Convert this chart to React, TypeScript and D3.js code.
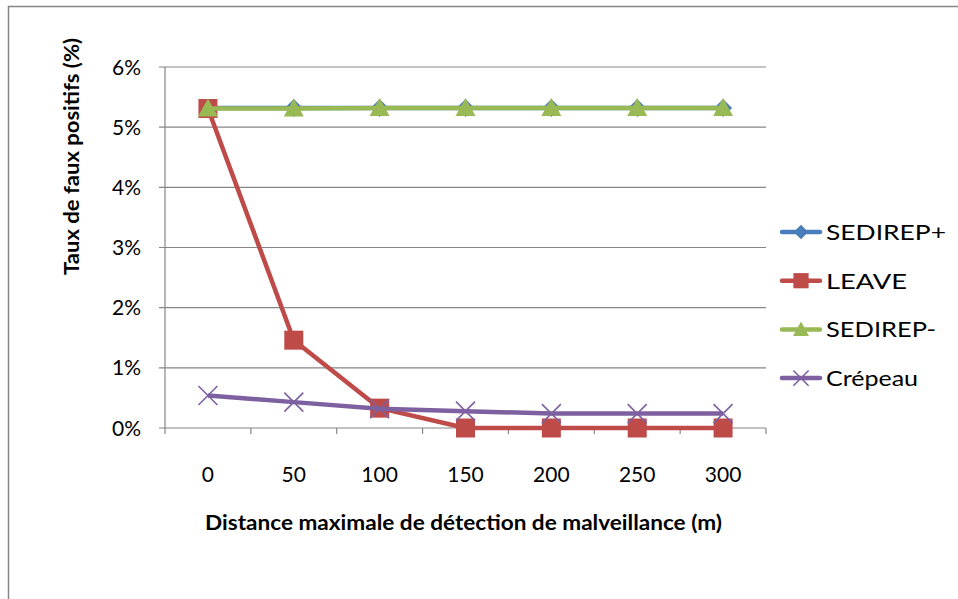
import React from "react";
import * as d3 from "d3";

const categories = ["0", "50", "100", "150", "200", "250", "300"];
const sedirepPlus = [5.32, 5.32, 5.32, 5.32, 5.32, 5.32, 5.32];
const leave = [5.31, 1.46, 0.33, 0, 0, 0, 0];
const sedirepMinus = [5.31, 5.31, 5.32, 5.32, 5.32, 5.32, 5.32];
const crepeau = [0.54, 0.43, 0.32, 0.28, 0.24, 0.24, 0.24];
const yTicks = [0, 1, 2, 3, 4, 5, 6];

const series = [
  { name: "SEDIREP+", values: sedirepPlus, color: "#4a7ebb", marker: "diamond", len: 120 },
  { name: "LEAVE", values: leave, color: "#be4b48", marker: "square", len: 81 },
  { name: "SEDIREP-", values: sedirepMinus, color: "#98b954", marker: "triangle", len: 110 },
  { name: "Crépeau", values: crepeau, color: "#7d60a0", marker: "x", len: 92 },
];

const FONT = "Lato, 'Open Sans', sans-serif";

function Marker({ type, x, y, color, s = 1 }: { type: string; x: number; y: number; color: string; s?: number }) {
  if (type === "diamond") {
    const r = 9 * s;
    return <path d={`M${x},${y - r}L${x + r},${y}L${x},${y + r}L${x - r},${y}Z`} fill={color} />;
  }
  if (type === "square") {
    const r = 9.5 * s;
    return <rect x={x - r} y={y - r} width={2 * r} height={2 * r} fill={color} />;
  }
  if (type === "triangle") {
    const w = 10 * s;
    const h = 18 * s;
    return <path d={`M${x},${y - h * 0.55}L${x + w},${y + h * 0.45}L${x - w},${y + h * 0.45}Z`} fill={color} />;
  }
  const r = 9.5 * s;
  return (
    <g stroke={color} strokeWidth={1.6}>
      <line x1={x - r} y1={y - r} x2={x + r} y2={y + r} />
      <line x1={x - r} y1={y + r} x2={x + r} y2={y - r} />
    </g>
  );
}

export default function App() {
  const left = 165, right = 766, top = 67, bottom = 428;
  const x = d3.scaleBand<string>().domain(categories).range([left, right]);
  const y = d3.scaleLinear().domain([0, 6]).range([bottom, top]);
  const line = d3
    .line<number>()
    .x((_, i) => (x(categories[i]) as number) + x.bandwidth() / 2)
    .y((d) => y(d));
  const boundaries = categories.map((c) => x(c) as number).concat([right]);

  return (
    <svg width={958} height={599} style={{ position: "absolute", left: 0, top: 0 }}>
      <rect x={0} y={0} width={958} height={599} fill="#fff" />
      <rect x={8.5} y={6.5} width={1000} height={1000} fill="none" stroke="#868686" strokeWidth={1.5} />
      {yTicks.map((t) => (
        <g key={t}>
          <line x1={left - 6} x2={right} y1={y(t)} y2={y(t)} stroke="#868686" strokeWidth={1.2} />
          <text x={141} y={y(t) + 7.5} textAnchor="end" fontFamily={FONT} fontSize={21} fill="#000">
            {t}%
          </text>
        </g>
      ))}
      <line x1={left} x2={left} y1={top} y2={bottom} stroke="#868686" strokeWidth={1.2} />
      {boundaries.map((b, i) => (
        <line key={i} x1={b} x2={b} y1={bottom} y2={bottom + 6} stroke="#868686" strokeWidth={1.2} />
      ))}
      {categories.map((c) => (
        <text key={c} x={(x(c) as number) + x.bandwidth() / 2} y={482} textAnchor="middle" fontFamily={FONT} fontSize={21} fill="#000">
          {c}
        </text>
      ))}
      {series.map((s) => (
        <g key={s.name}>
          <path d={line(s.values) as string} fill="none" stroke={s.color} strokeWidth={4.5} strokeLinejoin="round" />
          {s.values.map((v, i) => (
            <Marker key={i} type={s.marker} x={(x(categories[i]) as number) + x.bandwidth() / 2} y={y(v)} color={s.color} />
          ))}
        </g>
      ))}
      <text x={463.5} y={530} textAnchor="middle" fontFamily={FONT} fontSize={20} fontWeight="bold" fill="#000" textLength={517} lengthAdjust="spacingAndGlyphs">
        Distance maximale de détection de malveillance (m)
      </text>
      <text transform="translate(79,156.5) rotate(-90)" textAnchor="middle" fontFamily={FONT} fontSize={20} fontWeight="bold" fill="#000" textLength={237} lengthAdjust="spacingAndGlyphs">
        Taux de faux positifs (%)
      </text>
      {series.map((s, i) => {
        const ly = 232 + i * 48.7;
        return (
          <g key={s.name}>
            <line x1={782} x2={820} y1={ly} y2={ly} stroke={s.color} strokeWidth={4.5} strokeLinecap="round" />
            <Marker type={s.marker} x={801} y={ly} color={s.color} s={0.8} />
            <text x={826} y={ly + 8} fontFamily={FONT} fontSize={22} fill="#000" textLength={s.len} lengthAdjust="spacingAndGlyphs">
              {s.name}
            </text>
          </g>
        );
      })}
    </svg>
  );
}
